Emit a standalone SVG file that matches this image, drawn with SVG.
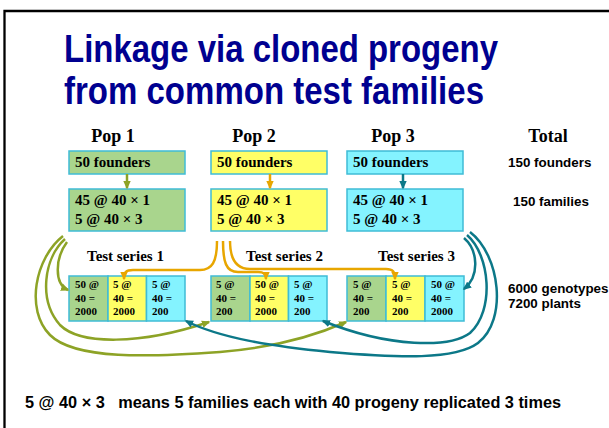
<svg xmlns="http://www.w3.org/2000/svg" width="609" height="428" viewBox="0 0 609 428">
<style>
.title{font-family:"Liberation Sans",Arial,sans-serif;font-weight:bold;font-size:38px;fill:#000090}
.hdr{font-family:"Liberation Serif","Times New Roman",serif;font-weight:bold;font-size:18px;fill:#000}
.bx{font-family:"Liberation Serif","Times New Roman",serif;font-weight:bold;font-size:15px;fill:#000}
.cell{font-family:"Liberation Serif","Times New Roman",serif;font-weight:bold;font-size:11px;fill:#000}
.sans{font-family:"Liberation Sans",Arial,sans-serif;font-weight:bold;font-size:13.4px;fill:#000}
.note{font-family:"Liberation Sans",Arial,sans-serif;font-weight:bold;font-size:16px;fill:#000;white-space:pre}
.g{fill:#A9D58D}.y{fill:#FFFF66}.c{fill:#84F3FF}
.b{stroke:#3FBCD6;stroke-width:1.5}
.lg{fill:none;stroke:#8DA326;stroke-width:2.5}
.lo{fill:none;stroke:#E8A600;stroke-width:2.5}
.lt{fill:none;stroke:#0C7888;stroke-width:2.5}
</style>
<defs>
<marker id="ag" markerUnits="userSpaceOnUse" markerWidth="9" markerHeight="9" refX="7" refY="4.5" orient="auto"><path d="M0,0.8 L8.5,4.5 L0,8.2 z" fill="#8DA326"/></marker>
<marker id="ao" markerUnits="userSpaceOnUse" markerWidth="9" markerHeight="9" refX="7" refY="4.5" orient="auto"><path d="M0,0.8 L8.5,4.5 L0,8.2 z" fill="#E8A600"/></marker>
<marker id="at" markerUnits="userSpaceOnUse" markerWidth="9" markerHeight="9" refX="7" refY="4.5" orient="auto"><path d="M0,0.8 L8.5,4.5 L0,8.2 z" fill="#0C7888"/></marker>
</defs>
<rect width="609" height="428" fill="#fff"/>
<path d="M4.5,428 V11 H609" fill="none" stroke="#000" stroke-width="2.3"/>
<g id="title">
<text class="title" x="64" y="62" textLength="434" lengthAdjust="spacingAndGlyphs">Linkage via cloned progeny</text>
<text class="title" x="64" y="104" textLength="420" lengthAdjust="spacingAndGlyphs">from common test families</text>
</g>
<g id="headers">
<text class="hdr" x="113" y="142" text-anchor="middle">Pop 1</text>
<text class="hdr" x="254" y="142" text-anchor="middle">Pop 2</text>
<text class="hdr" x="393" y="142" text-anchor="middle">Pop 3</text>
<text class="hdr" x="548" y="142" text-anchor="middle">Total</text>
</g>
<g id="pop1">
<rect class="g b" x="69" y="151" width="116" height="23"/>
<text class="bx" x="75" y="167">50 founders</text>
<rect class="g b" x="69" y="189" width="116" height="42"/>
<text class="bx" x="75" y="205">45 @ 40 × 1</text>
<text class="bx" x="75" y="224">5 @ 40 × 3</text>
</g>
<g id="pop2">
<rect class="y b" x="211" y="151" width="116" height="23"/>
<text class="bx" x="217" y="167">50 founders</text>
<rect class="y b" x="211" y="189" width="116" height="42"/>
<text class="bx" x="217" y="205">45 @ 40 × 1</text>
<text class="bx" x="217" y="224">5 @ 40 × 3</text>
</g>
<g id="pop3">
<rect class="c b" x="347" y="151" width="116" height="23"/>
<text class="bx" x="353" y="167">50 founders</text>
<rect class="c b" x="347" y="189" width="116" height="42"/>
<text class="bx" x="353" y="205">45 @ 40 × 1</text>
<text class="bx" x="353" y="224">5 @ 40 × 3</text>
</g>
<g id="totals">
<text class="sans" x="508" y="167">150 founders</text>
<text class="sans" x="513" y="206">150 families</text>
<text class="sans" x="508" y="293">6000 genotypes</text>
<text class="sans" x="508" y="308">7200 plants</text>
</g>
<g id="series1">
<text class="bx" x="87" y="261">Test series 1</text>
<rect class="g b" x="69" y="276" width="39" height="45"/>
<rect class="y b" x="108" y="276" width="38.5" height="45"/>
<rect class="c b" x="146.5" y="276" width="38.5" height="45"/>
<text class="cell" x="75" y="288">50 @</text><text class="cell" x="75" y="302">40 =</text><text class="cell" x="75" y="315">2000</text>
<text class="cell" x="113" y="288">5 @</text><text class="cell" x="113" y="302">40 =</text><text class="cell" x="113" y="315">2000</text>
<text class="cell" x="152" y="288">5 @</text><text class="cell" x="152" y="302">40 =</text><text class="cell" x="152" y="315">200</text>
</g>
<g id="series2">
<text class="bx" x="246" y="261">Test series 2</text>
<rect class="g b" x="211" y="276" width="39" height="45"/>
<rect class="y b" x="250" y="276" width="38.5" height="45"/>
<rect class="c b" x="288.5" y="276" width="38.5" height="45"/>
<text class="cell" x="216" y="288">5 @</text><text class="cell" x="216" y="302">40 =</text><text class="cell" x="216" y="315">200</text>
<text class="cell" x="255" y="288">50 @</text><text class="cell" x="255" y="302">40 =</text><text class="cell" x="255" y="315">2000</text>
<text class="cell" x="294" y="288">5 @</text><text class="cell" x="294" y="302">40 =</text><text class="cell" x="294" y="315">200</text>
</g>
<g id="series3">
<text class="bx" x="378" y="261">Test series 3</text>
<rect class="g b" x="347" y="276" width="39" height="45"/>
<rect class="y b" x="386" y="276" width="39" height="45"/>
<rect class="c b" x="425" y="276" width="39" height="45"/>
<text class="cell" x="353" y="288">5 @</text><text class="cell" x="353" y="302">40 =</text><text class="cell" x="353" y="315">200</text>
<text class="cell" x="392" y="288">5 @</text><text class="cell" x="392" y="302">40 =</text><text class="cell" x="392" y="315">200</text>
<text class="cell" x="431" y="288">50 @</text><text class="cell" x="431" y="302">40 =</text><text class="cell" x="431" y="315">2000</text>
</g>
<g id="connectors">
<path class="lg" d="M127,174 V188" marker-end="url(#ag)" stroke-width="2"/>
<path class="lo" d="M270,174 V188" marker-end="url(#ao)" stroke-width="2"/>
<path class="lt" d="M403,174 V188" marker-end="url(#at)" stroke-width="2"/>
<path class="lg" d="M67,242 C55,258 54,284 68,290" marker-end="url(#ag)"/>
<path class="lg" d="M65,239 C44,258 38,300 60,325 C80,345 140,345 209,322" marker-end="url(#ag)"/>
<path class="lg" d="M63,236 C35,258 25,310 50,335 C75,360 150,357 220,352 C270,348 310,338 346,322" marker-end="url(#ag)"/>
<path class="lo" d="M217,241 C217,262 212,270 200,270 L133,270 C126,270 124,272 124,279" marker-end="url(#ao)"/>
<path class="lo" d="M223,241 C223,262 226,272 238,272 L258,272 C264,272 266,274 266,279" marker-end="url(#ao)"/>
<path class="lo" d="M230,241 C230,258 236,269 250,269 L386,269 C393,269 395,272 395,279" marker-end="url(#ao)"/>
<path class="lt" d="M464,238 C478,250 480,276 464,289" marker-end="url(#at)"/>
<path class="lt" d="M467,235 C490,255 495,310 470,333 C450,348 390,348 323,321" marker-end="url(#at)"/>
<path class="lt" d="M470,232 C500,255 508,320 478,343 C455,360 400,358 330,352 C270,346 220,338 186,321" marker-end="url(#at)"/>
</g>
<g id="note">
<text class="note" x="25" y="408" textLength="536" lengthAdjust="spacingAndGlyphs">5 @ 40 × 3   means 5 families each with 40 progeny replicated 3 times</text>
</g>
</svg>
